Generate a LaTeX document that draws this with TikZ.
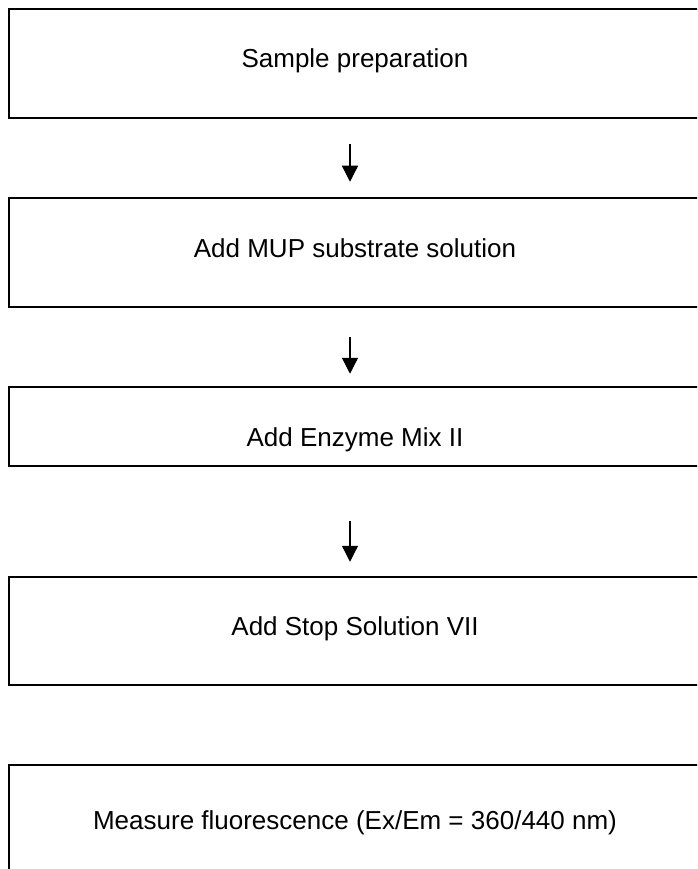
\documentclass[tikz,border=0pt]{standalone}
\usepackage{fontspec}
\setmainfont{Liberation Sans}
\usetikzlibrary{arrows.meta,calc}
\begin{document}
\begin{tikzpicture}[x=1pt,y=-1pt,
  box/.style={draw,line width=2.5pt,minimum width=692pt,inner sep=0pt},
  lbl/.style={anchor=base,font=\fontsize{26}{30}\selectfont,inner sep=0pt},
  arr/.style={line width=1.3pt,-{Triangle[length=16pt,width=16pt]}}]
\useasboundingbox (0,0) rectangle (697,869);
\clip (0,0) rectangle (697,869);
\fill[white] (0,0) rectangle (697,869);
\node[box,minimum height=109pt] (b1) at (355,63.5) {};
\node[lbl] (t1) at ($(b1.north)+(0,59.5)$) {Sample preparation};
\node[box,minimum height=109pt] (b2) at (355,252.5) {};
\node[lbl] (t2) at ($(b2.north)+(0,60.5)$) {Add MUP substrate solution};
\node[box,minimum height=79pt] (b3) at (355,426.5) {};
\node[lbl] (t3) at ($(b3.north)+(0,60.5)$) {Add Enzyme Mix II};
\node[box,minimum height=108pt] (b4) at (355,631) {};
\node[lbl] (t4) at ($(b4.north)+(0,59.5)$) {Add Stop Solution VII};
\node[box,minimum height=109pt] (b5) at (355,819.5) {};
\node[lbl] (t5) at ($(b5.north)+(0,65.5)$) {Measure fluorescence (Ex/Em = 360/440 nm)};
\draw[arr] ($(b1.south)+(-5,25)$) -- ($(b2.north)+(-5,-15)$);
\draw[arr] ($(b2.south)+(-5,29)$) -- ($(b3.north)+(-5,-12)$);
\draw[arr] ($(b3.south)+(-5,54)$) -- ($(b4.north)+(-5,-14)$);
\end{tikzpicture}
\end{document}
